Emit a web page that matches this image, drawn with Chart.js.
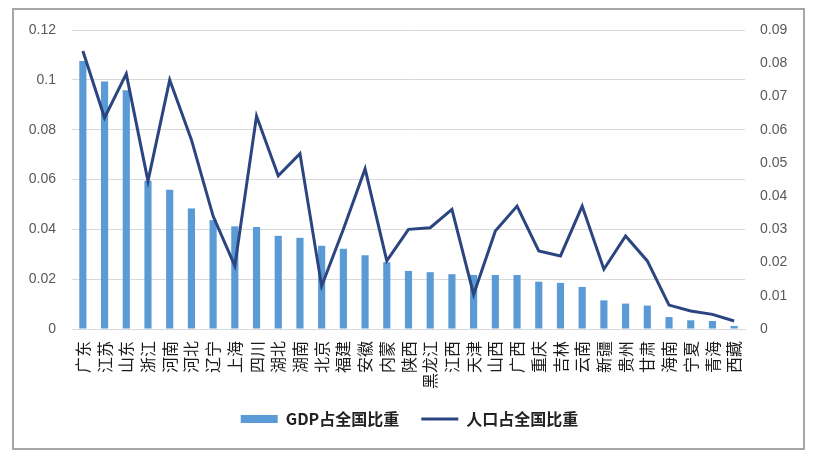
<!DOCTYPE html>
<html>
<head>
<meta charset="utf-8">
<script src="https://cdn.jsdelivr.net/npm/chart.js@4"></script>
<style>
  body { margin: 0; background: #fff; }
  #wrap { position: relative; width: 815px; height: 456px; }
  #frame { position: absolute; left: 12px; top: 8px; width: 793px; height: 442px; border: 2px solid #a6a6a6; box-sizing: border-box; pointer-events: none; }
</style>
</head>
<body>
<div id="wrap">
  <canvas id="chart" width="815" height="456"></canvas>
  <div id="frame"></div>
</div>
<script>
const provinces = ["广东", "江苏", "山东", "浙江", "河南", "河北", "辽宁", "上海", "四川", "湖北", "湖南", "北京", "福建", "安徽", "内蒙", "陕西",
  "黑龙江", "江西", "天津", "山西", "广西", "重庆", "吉林", "云南", "新疆", "贵州", "甘肃", "海南", "宁夏", "青海", "西藏"];

// GDP share (left axis)
const gdpShare = [0.1076, 0.0993, 0.0958, 0.0595, 0.0559, 0.0484, 0.0437, 0.0412, 0.0409, 0.0374, 0.0366, 0.0334, 0.0322, 0.0296, 0.0268, 0.0233,
  0.0228, 0.0220, 0.0217, 0.0217, 0.0217, 0.0190, 0.0185, 0.0169, 0.0115, 0.0102, 0.0094, 0.0048, 0.0035, 0.0032, 0.0012];

// population share (right axis)
const popShare = [0.0837, 0.0636, 0.0768, 0.0445, 0.0750, 0.0570, 0.0340, 0.0190, 0.0641, 0.0461, 0.0528, 0.0129, 0.0300, 0.0482, 0.0205, 0.0300,
  0.0305, 0.0360, 0.0104, 0.0295, 0.0370, 0.0235, 0.0220, 0.0370, 0.0180, 0.0280, 0.0205, 0.0072, 0.0054, 0.0044, 0.0024];

const leftTicks = { min: 0, max: 0.12, step: 0.02 };
const rightTicks = { min: 0, max: 0.09, step: 0.01 };

const fmt = (v) => String(+v.toFixed(2));
const tickFont = { family: "'Liberation Sans', Arial, sans-serif", size: 14 };

new Chart(document.getElementById("chart"), {
  data: {
    labels: provinces,
    datasets: [
      {
        type: "bar",
        label: "GDP占全国比重",
        data: gdpShare,
        yAxisID: "y",
        backgroundColor: "#5b9bd5",
        borderWidth: 0,
        barPercentage: 0.33,
        categoryPercentage: 1,
        order: 2,
        pointStyle: "rect",
      },
      {
        type: "line",
        label: "人口占全国比重",
        data: popShare,
        yAxisID: "y1",
        borderColor: "#2b4580",
        backgroundColor: "#2b4580",
        borderWidth: 3,
        pointRadius: 0,
        tension: 0,
        order: 1,
        pointStyle: "line",
      },
    ],
  },
  options: {
    responsive: false,
    animation: false,
    layout: { padding: { left: 14, right: 10, top: 30, bottom: 19 } },
    scales: {
      x: {
        grid: { display: false },
        border: { color: "#d9d9d9" },
        ticks: {
          autoSkip: false, maxRotation: 90, minRotation: 90, padding: 4,
          color: "#1a1a1a", font: { family: "'Noto Sans CJK SC'", size: 16 },
        },
        afterFit: (s) => { s.height = 60; },
      },
      y: {
        position: "left",
        min: leftTicks.min, max: leftTicks.max,
        grid: { color: "#d9d9d9", drawTicks: false },
        border: { display: false },
        ticks: { stepSize: leftTicks.step, padding: 16, color: "#595959", font: tickFont, callback: fmt },
        afterFit: (s) => { s.width = 58; },
      },
      y1: {
        position: "right",
        min: rightTicks.min, max: rightTicks.max,
        grid: { display: false, drawTicks: false },
        border: { display: false },
        ticks: { stepSize: rightTicks.step, padding: 15, color: "#595959", font: tickFont, callback: fmt },
        afterFit: (s) => { s.width = 60; },
      },
    },
    plugins: {
      legend: {
        position: "bottom",
        labels: {
          usePointStyle: true, pointStyleWidth: 37, boxHeight: 8, padding: 22,
          sort: (a, b) => a.datasetIndex - b.datasetIndex,
          color: "#222", font: { family: "'Noto Sans CJK SC'", size: 16, weight: "bold" },
        },
      },
      tooltip: { enabled: false },
    },
  },
});
</script>
</body>
</html>
